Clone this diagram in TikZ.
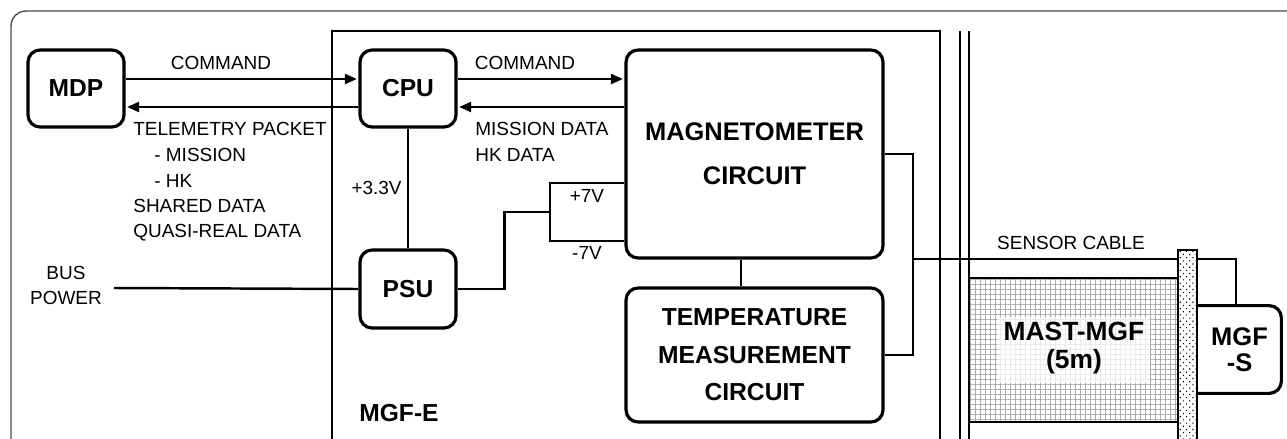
\documentclass[tikz,border=0pt]{standalone}
\usepackage{fontspec}
\setmainfont{Liberation Sans}
\usetikzlibrary{arrows.meta,patterns,patterns.meta}

\begin{document}
\begin{tikzpicture}[x=0.02cm,y=-0.02cm]
  \tikzstyle{every node}+=[inner sep=0pt]
  \tikzstyle{blk}=[draw, line width=1.8pt, rounded corners=0.24cm, align=center, font=\fontsize{14}{17}\selectfont\bfseries]
  \tikzstyle{big}=[align=center, font=\fontsize{14}{17}\selectfont\bfseries]
  \tikzstyle{lbl}=[font=\fontsize{10.8}{12}\selectfont, text height=7.7pt, text depth=0pt]
  \tikzstyle{wire}=[line width=1.4pt]
  \tikzstyle{arr}=[wire, shorten >=0.9pt, -{Triangle[length=0.24cm,width=0.2cm]}]
  \useasboundingbox (0,0) rectangle (1287,439);
  \draw [black!70, line width=0.8pt, rounded corners=0.3cm] (11,460) -- (11,11) -- (1300,11);
  \draw [wire] (332,460) -- (332,31) -- (940,31) -- (940,460);
  \draw [line width=1.2pt] (960,31) -- (960,460);
  \draw [line width=1.2pt] (969,31) -- (969,460);
  \node [blk, minimum width=1.92cm, minimum height=1.54cm] (mdp) at (76,88.5) {MDP};
  \node [blk, minimum width=1.92cm, minimum height=1.54cm] (cpu) at (408,88.5) {CPU};
  \node [blk, minimum width=1.92cm, minimum height=1.56cm] (psu) at (408,289) {PSU};
  \node [blk, minimum width=5.14cm, minimum height=4.16cm, font=\fontsize{14.5}{25}\selectfont\bfseries] (mag) at (754.5,154) {MAGNETOMETER\\CIRCUIT};
  \node [blk, minimum width=5.14cm, minimum height=2.68cm, font=\fontsize{14}{21.3}\selectfont\bfseries] (temp) at (754.5,355) {TEMPERATURE\\MEASUREMENT\\CIRCUIT};
  \node [big, anchor=west, text height=10pt, text depth=0pt] (mgfe) at (359,413) {MGF-E};
  \draw [arr] (mdp.east |- 0,79) -- (cpu.west |- 0,79);
  \draw [arr] (cpu.west |- 0,107) -- (mdp.east |- 0,107);
  \draw [arr] (cpu.east |- 0,79) -- (mag.west |- 0,79);
  \draw [arr] (mag.west |- 0,107) -- (cpu.east |- 0,107);
  \draw [wire] (cpu.south) -- (psu.north);
  \coordinate (busin) at (114,288);
  \draw [wire] (busin) -- (psu.west);
  \coordinate (pj) at (550,212);
  \draw [wire] (mag.west |- 0,183) -- (550,183) -- (550,241) -- (mag.west |- 0,241);
  \draw [wire] (psu.east) -- ++(47,0) |- (pj);
  \draw [wire] (mag.south -| 741,0) -- (temp.north -| 741,0);
  \node [lbl] (cmda) at (221,63) {COMMAND};
  \node [lbl] (cmdb) at (525,63) {COMMAND};
  \node [lbl, anchor=west] (tlm) at (133,129) {TELEMETRY PACKET};
  \node [lbl, anchor=west] (tlmmsn) at (154,155) {- MISSION};
  \node [lbl, anchor=west] (tlmhk) at (154,181) {- HK};
  \node [lbl, anchor=west] (shared) at (133,206) {SHARED DATA};
  \node [lbl, anchor=west] (quasi) at (133,231) {QUASI-REAL DATA};
  \node [lbl, anchor=west] (msn) at (475,129) {MISSION DATA};
  \node [lbl, anchor=west] (hk) at (475,155) {HK DATA};
  \node [lbl, anchor=east] (v33) at (402,188) {+3.3V};
  \node [lbl] (bus) at (66,273) {BUS};
  \node [lbl] (power) at (66,298) {POWER};
  \node [lbl] (vp) at (587,196) {+7V};
  \node [lbl] (vm) at (587,253) {-7V};
  \node [lbl] (cable) at (1071,243) {SENSOR CABLE};
  \node [minimum width=1.66cm, minimum height=1.74cm, big, font=\fontsize{14.5}{14.5}\selectfont\bfseries] (mgfs) at (1239.5,349.5) {MGF\\-S};
  \draw [line width=1.8pt, rounded corners=0.24cm] (mgfs.north west) -- (mgfs.north east) -- (mgfs.south east) -- (mgfs.south west);
  \coordinate (tap) at (913,259);
  \coordinate (bend) at (1236,259);
  \draw [wire] (mag.east) -| (tap) |- (temp.east);
  \draw [wire] (tap) -- (bend) -- (bend |- mgfs.north);
  \node [draw, line width=1.4pt, preaction={fill=white}, pattern={Hatch[angle=0, distance=0.1cm, line width=0.35pt]}, pattern color=gray!65, minimum width=4.18cm, minimum height=2.88cm] (mast) at (1073.5,350) {};
  \fill [white, opacity=0.75] (998,317) rectangle (1150,383);
  \node [big, font=\fontsize{15}{15.5}\selectfont\bfseries] (mastlbl) at (1074,348) {MAST-MGF\\(5m)};
  \draw [line width=1.2pt, preaction={fill=white}, pattern={Dots[distance=0.09cm, angle=45, radius=0.45pt]}] (1178,250) rectangle (1197,460);
\end{tikzpicture}
\end{document}
